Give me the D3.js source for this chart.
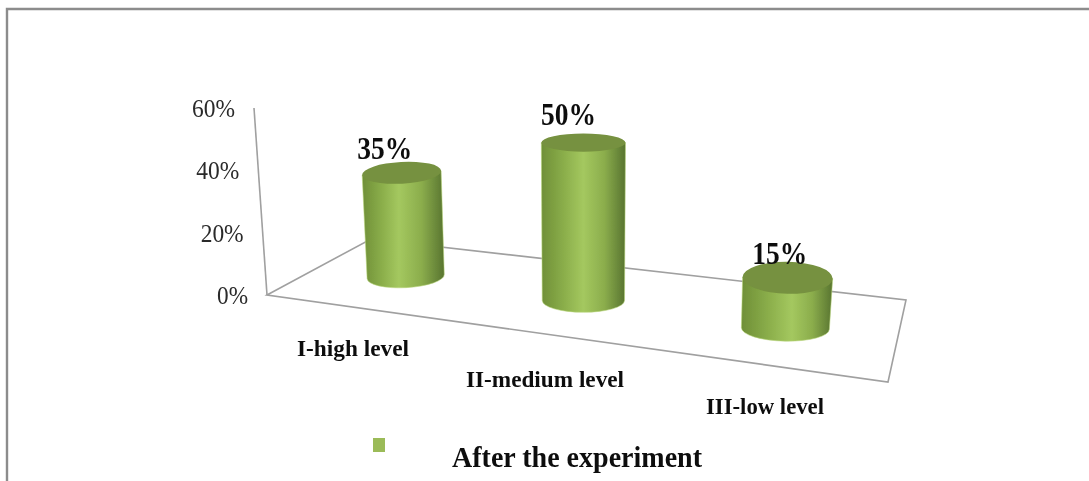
<!DOCTYPE html>
<html><head><meta charset="utf-8">
<script src="https://cdnjs.cloudflare.com/ajax/libs/d3/7.8.5/d3.min.js"></script>
<style>html,body{margin:0;padding:0;background:#fff}svg{display:block}text{font-family:"Liberation Serif",serif}</style>
</head><body><div id="c"></div>
<script>
// data
const categories = ["I-high level", "II-medium level", "III-low level"];
const values = [35, 50, 15];
const tickValues = [0, 20, 40, 60];
const seriesName = "After the experiment";

const W = 1089, H = 481;
const svg = d3.select("#c").append("svg").attr("width", W).attr("height", H);
const defs = svg.append("defs");
defs.append("filter").attr("id","soft").attr("x","-5%").attr("y","-5%").attr("width","110%").attr("height","110%")
  .append("feGaussianBlur").attr("stdDeviation",0.45);

// frame
svg.append("path").attr("d",`M7 ${H}V9H${W}`).attr("fill","none").attr("stroke","#8c8c8c").attr("stroke-width",2.4);

// perspective floor: unit square (u across categories, v back to front) onto the page
const corner = {bl:[371,239], br:[906,300], fr:[888,382], fl:[267,295]};
function homography(p0,p1,p2,p3){
  const dx1=p1[0]-p2[0],dx2=p3[0]-p2[0],sx=p0[0]-p1[0]+p2[0]-p3[0];
  const dy1=p1[1]-p2[1],dy2=p3[1]-p2[1],sy=p0[1]-p1[1]+p2[1]-p3[1];
  const det=dx1*dy2-dx2*dy1;
  const g=(sx*dy2-dx2*sy)/det,h=(dx1*sy-sx*dy1)/det;
  const a=p1[0]-p0[0]+g*p1[0],b=p3[0]-p0[0]+h*p3[0],c=p0[0];
  const d=p1[1]-p0[1]+g*p1[1],e=p3[1]-p0[1]+h*p3[1],f=p0[1];
  return (u,v)=>{const w=1+g*u+h*v;return {x:(a*u+b*v+c)/w,y:(d*u+e*v+f)/w,s:1/w};};
}
const floor = homography(corner.bl,corner.br,corner.fr,corner.fl);
const xBand = d3.scaleBand().domain(categories).range([0,1]);
const yScale = d3.scaleLinear().domain([0,60]).range([0,160.2]);
const vanishX = 583, leanK = 0.00022;
// a point at given value above a floor position
function lift(p,val){
  const h = yScale(val)*p.s, lean=(p.x-vanishX)*leanK;
  return {x:p.x+lean*h,y:p.y-h,lean};
}
// where a cylinder stands on the floor
const nudgeX=[1.5,1,0], nudgeY=[1.5,3,5.5];
function basePoint(i){
  const p=floor(xBand(categories[i])+xBand.bandwidth()/2,0.5);
  return {x:p.x+nudgeX[i],y:p.y+nudgeY[i],s:p.s};
}

const art = svg.append("g").attr("filter","url(#soft)");

// floor + axis
const q=[corner.fl,corner.bl,corner.br,corner.fr];
art.append("path").attr("d",d3.line()(q)+"Z").attr("fill","none").attr("stroke","#a0a0a0").attr("stroke-width",1.6);
const origin = floor(0,1);
const axisTop = lift(origin,60);
art.append("line").attr("x1",origin.x).attr("y1",origin.y).attr("x2",axisTop.x).attr("y2",axisTop.y)
  .attr("stroke","#a0a0a0").attr("stroke-width",1.6);

// y tick labels
art.selectAll("text.tick").data(tickValues).join("text").attr("class","tick")
  .attr("x",d=>lift(origin,d).x-19).attr("y",d=>lift(origin,d).y+9)
  .attr("text-anchor","end").attr("font-size",25).attr("fill","#2a2a2a")
  .attr("textLength",d=>d===0?31:43).attr("lengthAdjust","spacingAndGlyphs")
  .text(d=>d+"%");

// cylinders
const topRy = d3.scaleLinear().domain([0,60]).range([14.8,6.2]);
const rxTop=35.6, rxBot=34.8, ryBot=10;
const gradCenter = d3.scaleLinear().domain([0,1]).range([0.42,0.58]);
const cyl = art.selectAll("g.cyl").data(categories).join("g").attr("class","cyl");
cyl.each(function(cat,i){
  const g=d3.select(this), val=values[i];
  const base=basePoint(i);
  const top=lift(base,val);
  const rot=Math.atan(top.lean*(top.lean<0?1.4:0.4))*180/Math.PI, rad=rot*Math.PI/180;
  const rt=rxTop*base.s, rb=rxBot*base.s, tRy=topRy(val)*base.s, bRy=ryBot*base.s;
  const id="g"+i, c=gradCenter((xBand(cat)+xBand.bandwidth()/2));
  const gr=defs.append("linearGradient").attr("id",id);
  [[0,"#6f8f38"],[c*0.45,"#86a947"],[c,"#a4c85f"],[c+(1-c)*0.5,"#8bad4c"],[1,"#587430"]]
    .forEach(s=>gr.append("stop").attr("offset",s[0]).attr("stop-color",s[1]));
  const cr=Math.cos(rad), sr=Math.sin(rad);
  const tl=[top.x-rt*cr,top.y-rt*sr], tr=[top.x+rt*cr,top.y+rt*sr];
  const bl=[base.x-rb*cr,base.y-rb*sr], br=[base.x+rb*cr,base.y+rb*sr];
  g.append("path").attr("fill",`url(#${id})`)
    .attr("stroke","#b9d67c").attr("stroke-width",0.8).attr("stroke-opacity",0.7)
    .attr("d",`M${tl}L${bl}A${rb} ${bRy} ${rot} 0 0 ${br}L${tr}Z`);
  g.append("ellipse").attr("cx",top.x).attr("cy",top.y).attr("rx",rt).attr("ry",tRy)
    .attr("transform",`rotate(${rot} ${top.x} ${top.y})`).attr("fill","#76913f");
});

// value labels
const labelDx=[-17,-15,-8], labelDy=[-14,-18,-14];
art.selectAll("text.val").data(values).join("text").attr("class","val")
  .attr("x",(d,i)=>lift(basePoint(i),d).x+labelDx[i])
  .attr("y",(d,i)=>lift(basePoint(i),d).y+labelDy[i])
  .attr("text-anchor","middle").attr("font-size",31).attr("font-weight","bold").attr("fill","#111")
  .attr("textLength",55).attr("lengthAdjust","spacingAndGlyphs")
  .text(d=>d+"%");

// category labels, sitting along the front edge of the floor
const catPos=[[297,356,112],[466,387,158],[706,414,118]];
art.selectAll("text.cat").data(categories).join("text").attr("class","cat")
  .attr("x",(d,i)=>catPos[i][0]).attr("y",(d,i)=>catPos[i][1])
  .attr("textLength",(d,i)=>catPos[i][2]).attr("lengthAdjust","spacingAndGlyphs")
  .attr("font-size",24).attr("font-weight","bold").attr("fill","#111").text(d=>d);

// legend
art.append("rect").attr("x",373).attr("y",438).attr("width",12).attr("height",14).attr("fill","#9bbb59");
art.append("text").attr("x",452).attr("y",467).attr("textLength",250).attr("lengthAdjust","spacingAndGlyphs")
  .attr("font-size",30).attr("font-weight","bold").attr("fill","#111").text(seriesName);
</script></body></html>
